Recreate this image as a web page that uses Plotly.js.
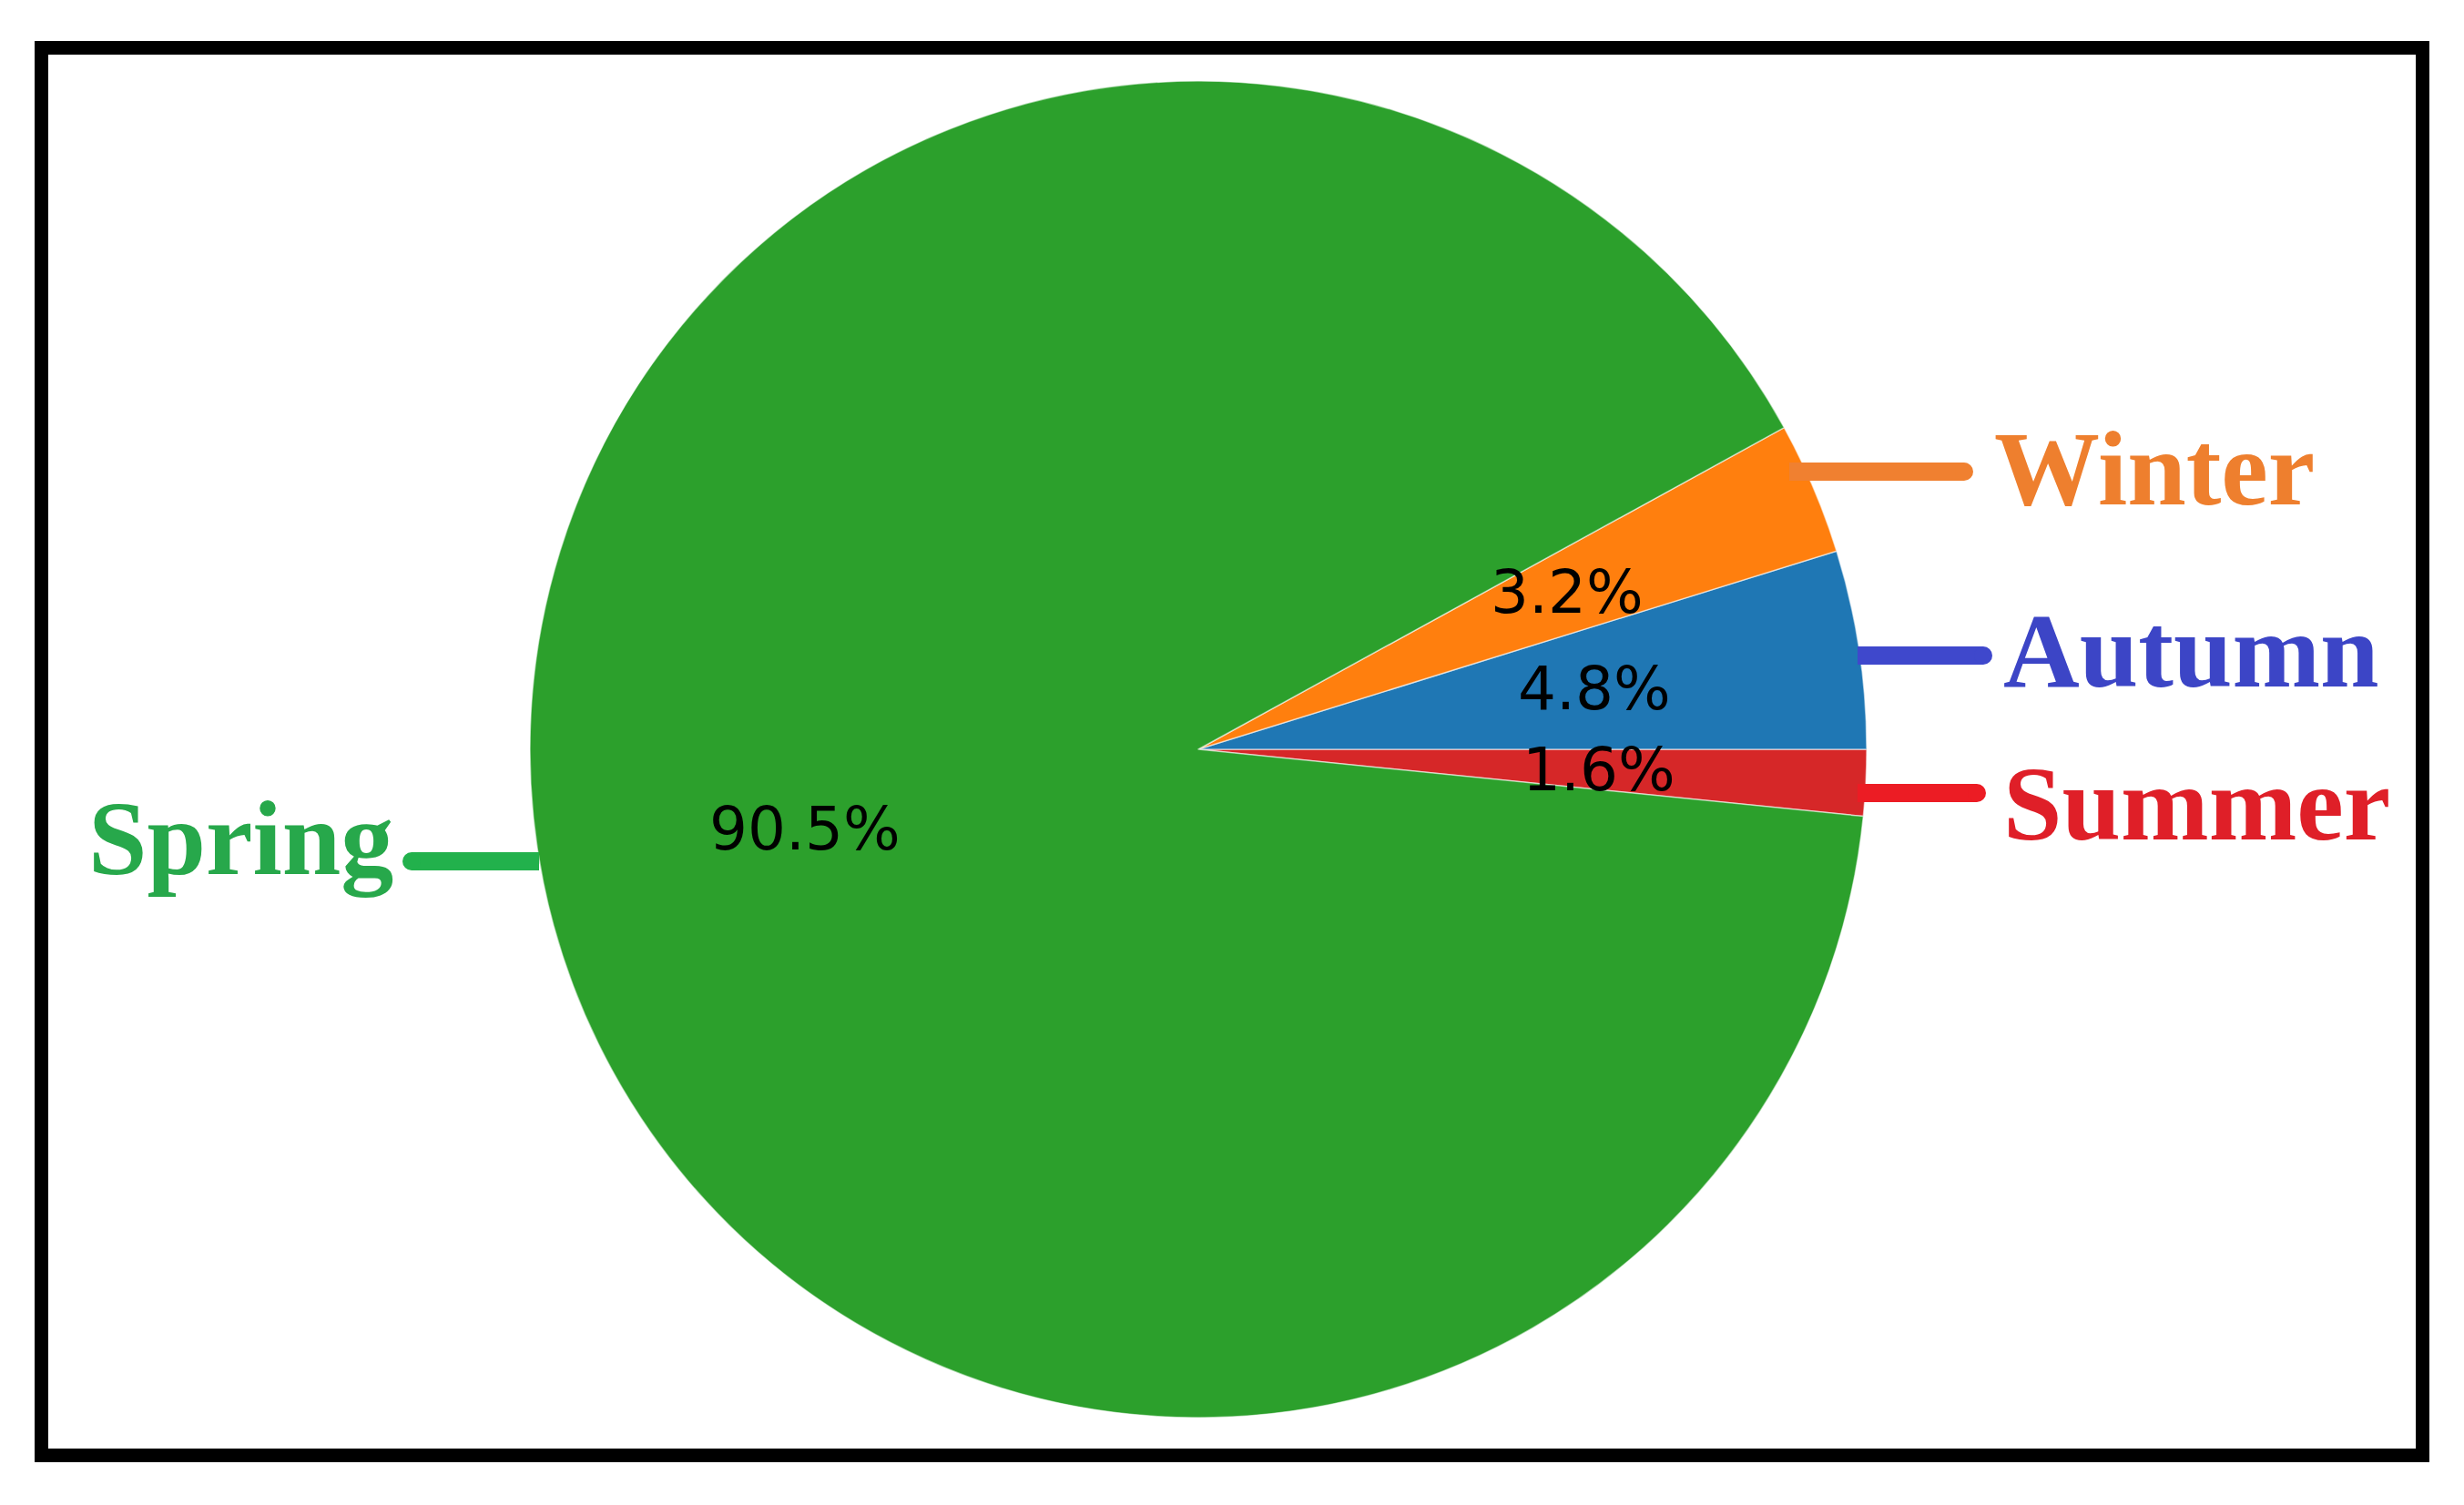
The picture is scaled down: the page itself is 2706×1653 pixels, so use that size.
<!DOCTYPE html>
<html>
<head>
<meta charset="utf-8">
<script src="https://cdn.plot.ly/plotly-3.0.1.min.js"></script>
<style>
  html, body { margin: 0; padding: 0; background: #ffffff; }
  #chart { width: 2706px; height: 1653px; }
</style>
</head>
<body>
<div id="chart"></div>
<script>
// ---- data ----
// order: Plotly (counterclockwise) puts the first slice just clockwise of the
// start angle and continues counterclockwise from there.
const seasons = ['Summer', 'Autumn', 'Winter', 'Spring'];
const shares = [1.6, 4.8, 3.2, 90.5];

// ---- styles ----
const sliceColors = ['#d62728', '#1f77b4', '#ff7f0e', '#2ca02c'];
const labelColors = {Autumn: '#3c45c6', Winter: '#ee7f2e', Spring: '#27a84b', Summer: '#df1f28'};
const leaderColors = {Autumn: '#3f48cc', Winter: '#f08030', Spring: '#22b14c', Summer: '#ec1c24'};

// ---- layout geometry (pixels) ----
const W = 2706, H = 1653;
const CX = 1316, CY = 823, R = 734;
const px = x => x / W;
const py = y => 1 - y / H;

// label placement: [textX, textCenterY, anchor, leaderX0, leaderX1, leaderY]
const labelPlace = {
  Winter: [2188, 515, 'left', 1965, 2157, 518],
  Autumn: [2198, 715, 'left', 2040, 2178, 720],
  Summer: [2198, 883, 'left', 2040, 2171, 871],
  Spring: [434, 921, 'right', 452, 592, 946]
};

const trace = {
  type: 'pie',
  labels: seasons,
  values: shares,
  sort: false,
  direction: 'counterclockwise',
  rotation: 90,
  textinfo: 'none',
  hoverinfo: 'label+value',
  marker: { colors: sliceColors, line: { color: 'rgba(255,255,255,0.55)', width: 1.5 } },
  domain: { x: [px(CX - R), px(CX + R)], y: [py(CY + R), py(CY - R)] },
  showlegend: false
};

// percentage labels at 0.6 of the radius, at each slice's mid-angle
const total = shares.reduce((a, b) => a + b, 0);
const annotations = [];
let start = -360 * shares[0] / total;
shares.forEach((v, i) => {
  const sweep = 360 * v / total;
  const mid = (start + sweep / 2) * Math.PI / 180;
  start += sweep;
  annotations.push({
    xref: 'paper', yref: 'paper',
    x: px(CX + 0.6 * R * Math.cos(mid)),
    y: py(CY - 0.6 * R * Math.sin(mid)),
    text: v.toFixed(1) + '%',
    showarrow: false, xanchor: 'center', yanchor: 'middle',
    font: { family: 'DejaVu Sans', size: 66, color: '#000000' }
  });
});

const shapes = [{
  type: 'rect', xref: 'paper', yref: 'paper',
  x0: px(45.5), x1: px(2660.5), y0: py(1598.5), y1: py(52.5),
  line: { color: '#000000', width: 15 }, fillcolor: 'rgba(0,0,0,0)'
}];

seasons.forEach(s => {
  const p = labelPlace[s];
  annotations.push({
    xref: 'paper', yref: 'paper',
    x: px(p[0]), y: py(p[1]),
    text: s, showarrow: false, xanchor: p[2], yanchor: 'middle',
    font: { family: 'Liberation Serif', size: 116, weight: 'bold', color: labelColors[s] }
  });
  shapes.push({
    type: 'line', xref: 'paper', yref: 'paper', layer: 'above',
    x0: px(p[3]), x1: px(p[4]), y0: py(p[5]), y1: py(p[5]),
    line: { color: leaderColors[s], width: 20 }
  });
  const endX = p[2] === 'left' ? p[4] : p[3];
  shapes.push({
    type: 'circle', xref: 'paper', yref: 'paper', layer: 'above',
    x0: px(endX - 10), x1: px(endX + 10), y0: py(p[5] + 10), y1: py(p[5] - 10),
    line: { width: 0 }, fillcolor: leaderColors[s]
  });
});

const layout = {
  width: W, height: H,
  margin: { l: 0, r: 0, t: 0, b: 0, pad: 0 },
  paper_bgcolor: '#ffffff',
  plot_bgcolor: '#ffffff',
  showlegend: false,
  annotations: annotations,
  shapes: shapes
};

Plotly.newPlot('chart', [trace], layout, { displayModeBar: false, staticPlot: true });
</script>
</body>
</html>
